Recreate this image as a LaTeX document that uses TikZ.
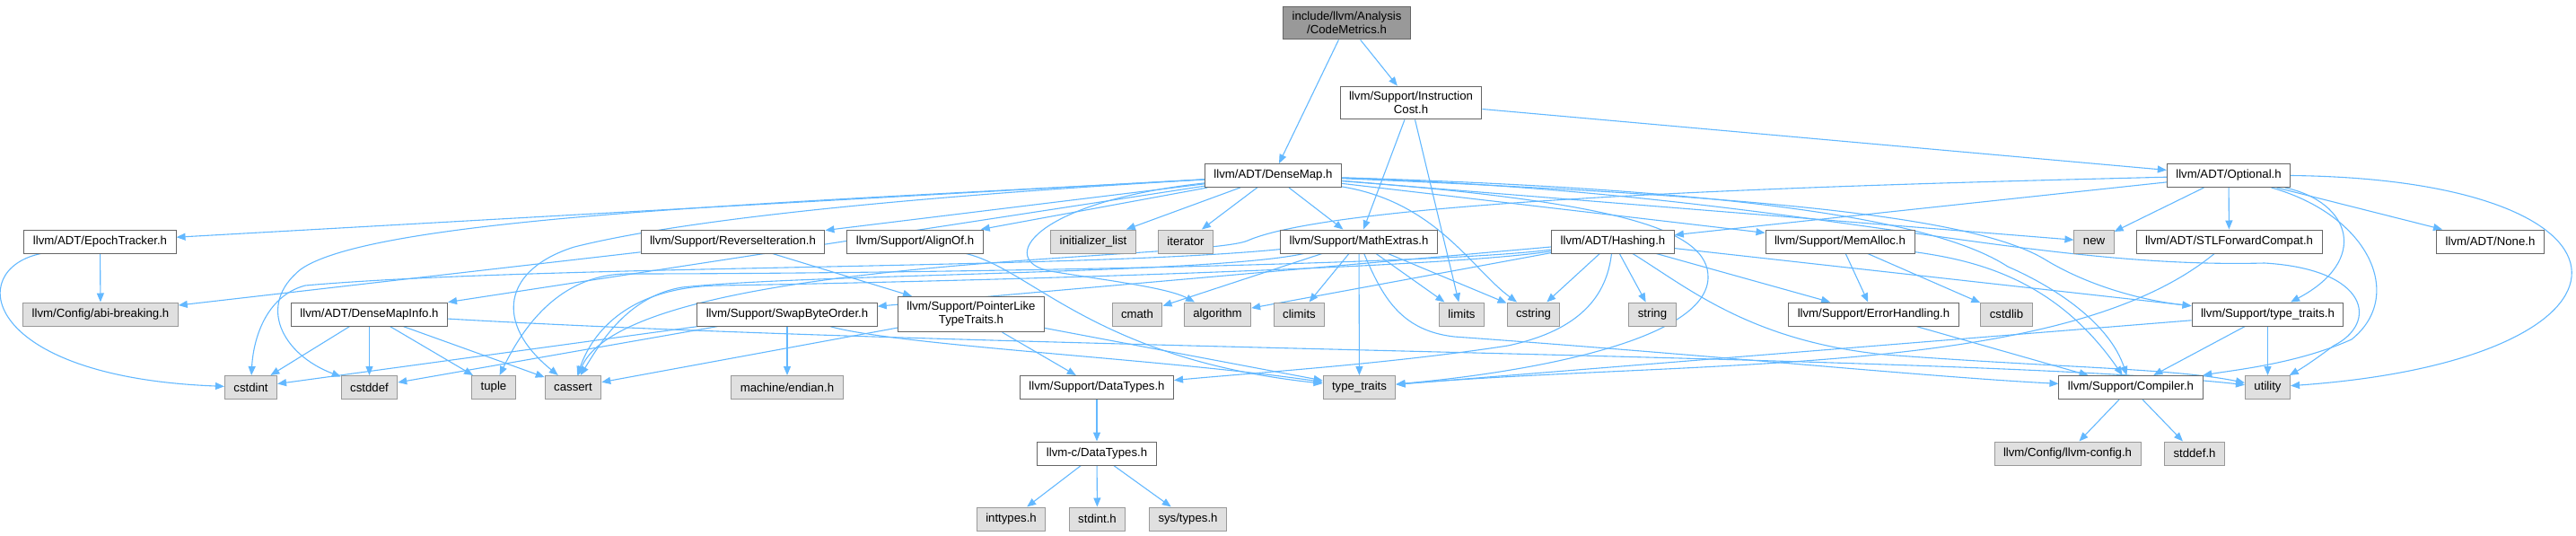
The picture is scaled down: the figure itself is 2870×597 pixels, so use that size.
\documentclass[tikz,border=0pt]{standalone}
\usepackage{fontspec}
\setmainfont{Liberation Sans}
\usepackage{xcolor}
\usetikzlibrary{arrows.meta}

\definecolor{edgeblue}{HTML}{63B8FF}
\definecolor{boxgray}{HTML}{E0E0E0}
\definecolor{linegray}{HTML}{999999}
\definecolor{linedark}{HTML}{666666}

\pgfdeclarelayer{edges}
\pgfsetlayers{edges,main}

\begin{document}
\begin{tikzpicture}[
  x=1pt, y=-1pt,
  font=\fontsize{13.2}{15}\selectfont,
  every node/.style={align=center, inner xsep=10pt, inner ysep=6pt, minimum height=26pt},
  hdr/.style={draw=linedark, rectangle, fill=white, line width=1pt},
  sys/.style={draw=linegray, rectangle, fill=boxgray, line width=1pt},
  rootbox/.style={draw=linedark, rectangle, fill=linegray, line width=1pt},
  inc/.style={->, >={Triangle[length=10pt, width=8pt]}, draw=edgeblue, line width=1.1pt}
]
\useasboundingbox (0,0) rectangle (2870,597);

% rank 0 and 1
\node[rootbox] (metrics) at (1500.5,25.5) {include/llvm/Analysis\\/CodeMetrics.h};
\node[hdr] (icost) at (1572,114.5) {llvm/Support/Instruction\\Cost.h};
\node[hdr] (densemap) at (1418.5,195.5) {llvm/ADT/DenseMap.h};
\node[hdr] (optional) at (2483,195.5) {llvm/ADT/Optional.h};

% rank 3
\node[hdr] (epoch) at (111.5,269) {llvm/ADT/EpochTracker.h};
\node[hdr] (reviter) at (816.5,269) {llvm/Support/ReverseIteration.h};
\node[hdr] (alignof) at (1019.5,269) {llvm/Support/AlignOf.h};
\node[sys] (initlist) at (1218,269) {initializer\_list};
\node[sys] (iterator) at (1321,269) {iterator};
\node[hdr] (mathext) at (1514,269) {llvm/Support/MathExtras.h};
\node[hdr] (hashing) at (1797,269) {llvm/ADT/Hashing.h};
\node[hdr] (memalloc) at (2050,269) {llvm/Support/MemAlloc.h};
\node[sys] (new) at (2333,269) {new};
\node[hdr] (stlfwd) at (2483.5,269) {llvm/ADT/STLForwardCompat.h};
\node[hdr] (none) at (2774.5,269) {llvm/ADT/None.h};

% rank 4
\node[sys] (abibreak) at (112,350) {llvm/Config/abi-breaking.h};
\node[hdr] (dmapinfo) at (411.5,350) {llvm/ADT/DenseMapInfo.h};
\node[hdr] (swapbyte) at (877,350) {llvm/Support/SwapByteOrder.h};
\node[hdr] (ptrlike) at (1082,350) {llvm/Support/PointerLike\\TypeTraits.h};
\node[sys] (cmath) at (1267,350) {cmath};
\node[sys] (algorithm) at (1356.5,350) {algorithm};
\node[sys] (climits) at (1447.5,350) {climits};
\node[sys] (limits) at (1628.5,350) {limits};
\node[sys] (cstring) at (1708.5,350) {cstring};
\node[sys] (string) at (1841,350) {string};
\node[hdr] (errhandl) at (2087.5,350) {llvm/Support/ErrorHandling.h};
\node[sys] (cstdlib) at (2235.5,350) {cstdlib};
\node[hdr] (lltraits) at (2526.5,350) {llvm/Support/type\_traits.h};

% rank 5
\node[sys] (cstdint) at (279.5,431.5) {cstdint};
\node[sys] (cstddef) at (411.5,431.5) {cstddef};
\node[sys] (tuple) at (550,431.5) {tuple};
\node[sys] (cassert) at (638.5,431.5) {cassert};
\node[sys] (endian) at (877,431.5) {machine/endian.h};
\node[hdr] (datatypes) at (1222,431.5) {llvm/Support/DataTypes.h};
\node[sys] (typetraits) at (1514.5,431.5) {type\_traits};
\node[hdr] (compiler) at (2374,431.5) {llvm/Support/Compiler.h};
\node[sys] (utility) at (2526.5,431.5) {utility};

% rank 6 and 7
\node[hdr] (cdatatypes) at (1222,505) {llvm-c/DataTypes.h};
\node[sys] (llvmconfig) at (2303.5,505) {llvm/Config/llvm-config.h};
\node[sys] (stddefh) at (2445,505) {stddef.h};
\node[sys] (inttypes) at (1126.5,578) {inttypes.h};
\node[sys] (stdinth) at (1222.5,578) {stdint.h};
\node[sys] (systypes) at (1323.5,578) {sys/types.h};

\begin{pgfonlayer}{edges}
% CodeMetrics.h and InstructionCost.h
\draw[inc] (metrics) -- (densemap);
\draw[inc] (metrics) -- (icost);
\draw[inc] (icost) -- (mathext);
\draw[inc] (icost) -- (limits);
\draw[inc] (icost) -- (optional);

% DenseMap.h
\draw[inc] (densemap) -- (epoch);
\draw[inc] (densemap) -- (dmapinfo);
\draw[inc] (densemap) -- (reviter);
\draw[inc] (densemap) -- (alignof);
\draw[inc] (densemap) -- (initlist);
\draw[inc] (densemap) -- (iterator);
\draw[inc] (densemap) -- (mathext);
\draw[inc] (densemap) -- (memalloc);
\draw[inc] (densemap) -- (new);
\draw[inc] (densemap) .. controls (1950,218) and (2200,240) .. (2280,290) .. controls (2330,320) and (2390,335) .. (lltraits);
\draw[inc] (densemap) .. controls (1900,210) and (2150,240) .. (2237,297) .. controls (2290,320) and (2350,360) .. (compiler);
\draw[inc] (densemap) .. controls (2000,215) and (2250,300) .. (2523,293) .. controls (2640,300) and (2650,360) .. (2600,385) .. controls (2580,400) and (2565,410) .. (utility);
\draw[inc] (densemap) .. controls (1800,225) and (1905,255) .. (1903,310) .. controls (1900,380) and (1700,415) .. (typetraits);
\draw[inc] (densemap) .. controls (1150,225) and (1110,290) .. (1170,302) .. controls (1230,312) and (1300,320) .. (algorithm);
\draw[inc] (densemap) .. controls (1000,220) and (760,245) .. (640,275) .. controls (560,300) and (550,360) .. (cassert);
\draw[inc] (densemap) .. controls (900,225) and (420,240) .. (335,300) .. controls (285,340) and (315,395) .. (cstddef);
\draw[inc] (densemap) .. controls (1600,225) and (1640,300) .. (cstring);

% Optional.h
\draw[inc] (optional) -- (hashing);
\draw[inc] (optional) -- (new);
\draw[inc] (optional) -- (stlfwd);
\draw[inc] (optional) -- (none);
\draw[inc] (optional) .. controls (2620,225) and (2640,290) .. (lltraits);
\draw[inc] (optional) .. controls (2640,240) and (2680,330) .. (2620,378) .. controls (2560,405) and (2490,412) .. (compiler);
\draw[inc] (optional.east) .. controls (2968,200) and (2968,400) .. (utility);
\draw[inc] (optional) .. controls (2100,205) and (1500,220) .. (1390,268) .. controls (1340,290) and (700,285) .. (cassert);

% MathExtras.h
\draw[inc] (mathext) -- (cmath);
\draw[inc] (mathext) -- (climits);
\draw[inc] (mathext) -- (limits);
\draw[inc] (mathext) -- (cstring);
\draw[inc] (mathext) -- (typetraits);
\draw[inc] (mathext) .. controls (1540,330) and (1560,368) .. (1620,375) .. controls (1900,395) and (2150,420) .. (compiler);
\draw[inc] (mathext) .. controls (1350,305) and (900,305) .. (760,320) .. controls (700,330) and (670,380) .. (cassert);
\draw[inc] (mathext) .. controls (1200,300) and (600,295) .. (340,318) .. controls (295,330) and (282,380) .. (cstdint);

% Hashing.h
\draw[inc] (hashing) -- (errhandl);
\draw[inc] (hashing) -- (swapbyte);
\draw[inc] (hashing) -- (lltraits);
\draw[inc] (hashing) -- (algorithm);
\draw[inc] (hashing) -- (cstring);
\draw[inc] (hashing) -- (string);
\draw[inc] (hashing) .. controls (1790,330) and (1760,368) .. (1680,385) .. controls (1550,405) and (1400,415) .. (datatypes);
\draw[inc] (hashing) .. controls (1600,300) and (1000,315) .. (800,318) .. controls (700,320) and (660,370) .. (cassert);
\draw[inc] (hashing) .. controls (1600,295) and (1000,305) .. (700,305) .. controls (620,305) and (580,370) .. (tuple);
\draw[inc] (hashing) .. controls (1880,320) and (1950,380) .. (2100,395) .. controls (2300,410) and (2420,410) .. (utility);

% MemAlloc.h, ErrorHandling.h
\draw[inc] (memalloc) -- (errhandl);
\draw[inc] (memalloc) -- (cstdlib);
\draw[inc] (memalloc) .. controls (2200,290) and (2290,310) .. (compiler);
\draw[inc] (errhandl) -- (compiler);

% EpochTracker.h, ReverseIteration.h, AlignOf.h
\draw[inc] (epoch) -- (abibreak);
\draw[inc] (epoch) .. controls (-40,300) and (-20,420) .. (cstdint);
\draw[inc] (reviter) -- (abibreak);
\draw[inc] (reviter) -- (ptrlike);
\draw[inc] (alignof) .. controls (1150,300) and (1220,400) .. (typetraits);

% PointerLikeTypeTraits.h, SwapByteOrder.h
\draw[inc] (ptrlike) -- (datatypes);
\draw[inc] (ptrlike) -- (cassert);
\draw[inc] (ptrlike) -- (typetraits);
\draw[inc] (swapbyte) -- (cstddef);
\draw[inc] (swapbyte) -- (cstdint);
\draw[inc] (swapbyte) -- (endian);
\draw[inc] (swapbyte) .. controls (1000,385) and (1300,400) .. (typetraits);

% DenseMapInfo.h
\draw[inc] (dmapinfo) -- (cstdint);
\draw[inc] (dmapinfo) -- (cstddef);
\draw[inc] (dmapinfo) -- (tuple);
\draw[inc] (dmapinfo) -- (cassert);
\draw[inc] (dmapinfo) .. controls (1100,390) and (2200,395) .. (utility);

% STLForwardCompat.h, type_traits.h, Compiler.h
\draw[inc] (stlfwd) .. controls (2300,420) and (1900,400) .. (typetraits);
\draw[inc] (lltraits) -- (compiler);
\draw[inc] (lltraits) -- (typetraits);
\draw[inc] (lltraits) -- (utility);
\draw[inc] (compiler) -- (llvmconfig);
\draw[inc] (compiler) -- (stddefh);

% DataTypes.h
\draw[inc] (datatypes) -- (cdatatypes);
\draw[inc] (cdatatypes) -- (inttypes);
\draw[inc] (cdatatypes) -- (stdinth);
\draw[inc] (cdatatypes) -- (systypes);
\end{pgfonlayer}
\end{tikzpicture}
\end{document}
